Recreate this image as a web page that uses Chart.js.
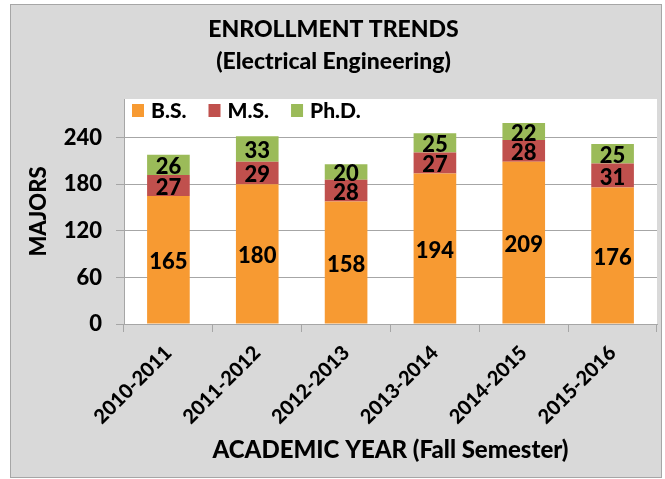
<!DOCTYPE html>
<html>
<head>
<meta charset="utf-8">
<script src="https://cdn.jsdelivr.net/npm/chart.js@4/dist/chart.umd.min.js"></script>
<style>
html,body{margin:0;padding:0;background:#fff;}
#wrap{width:665px;height:479px;position:relative;}
</style>
</head>
<body>
<div id="wrap"><canvas id="c" width="665" height="479"></canvas></div>
<script>
const categories = ['2010-2011','2011-2012','2012-2013','2013-2014','2014-2015','2015-2016'];
const bsValues  = [165, 180, 158, 194, 209, 176];
const msValues  = [27, 29, 28, 27, 28, 31];
const phdValues = [26, 33, 20, 25, 22, 25];
const seriesNames = ['B.S.', 'M.S.', 'Ph.D.'];
const yTickValues = [0, 60, 120, 180, 240];

const FONT = 'Lato, "Open Sans", sans-serif';
const W = 900;

const bgPlugin = {
  id: 'bg',
  beforeDraw(chart) {
    const ctx = chart.ctx, a = chart.chartArea;
    ctx.save();
    ctx.fillStyle = '#ffffff';
    ctx.fillRect(0, 0, chart.width, chart.height);
    ctx.fillStyle = '#d9d9d9';
    ctx.fillRect(10, 4, 651, 473);
    ctx.strokeStyle = '#a6a6a6';
    ctx.lineWidth = 1;
    ctx.strokeRect(10.5, 4.5, 651, 473);
    ctx.fillStyle = '#ffffff';
    ctx.fillRect(a.left, a.top, a.right - a.left, a.bottom - a.top);
    ctx.restore();
  }
};

const labelPlugin = {
  id: 'vals',
  afterDatasetsDraw(chart) {
    const ctx = chart.ctx;
    ctx.save();
    ctx.font = W + ' 22px ' + FONT;
    ctx.fillStyle = '#000';
    ctx.textAlign = 'center';
    ctx.textBaseline = 'middle';
    chart.data.datasets.forEach((ds, i) => {
      const meta = chart.getDatasetMeta(i);
      meta.data.forEach((el, j) => {
        const y = (el.y + el.base) / 2;
        ctx.fillText(String(ds.data[j]), el.x, y + 2);
      });
    });
    ctx.restore();
  }
};

const legendPlugin = {
  id: 'legendIn',
  afterDraw(chart) {
    const ctx = chart.ctx, a = chart.chartArea;
    ctx.save();
    ctx.font = W + ' 21px ' + FONT;
    ctx.textBaseline = 'middle';
    ctx.textAlign = 'left';
    let x = a.left + 8;
    const y = a.top + 5;
    chart.data.datasets.forEach((ds) => {
      ctx.fillStyle = ds.backgroundColor;
      ctx.fillRect(x, y, 12, 13);
      ctx.fillStyle = '#000';
      ctx.fillText(ds.label, x + 19, y + 7);
      x += 19 + ctx.measureText(ds.label).width + 22;
    });
    ctx.restore();
  }
};

new Chart(document.getElementById('c'), {
  type: 'bar',
  data: {
    labels: categories,
    datasets: [
      { label: seriesNames[0], data: bsValues,  backgroundColor: '#f79a32' },
      { label: seriesNames[1], data: msValues,  backgroundColor: '#c0504d' },
      { label: seriesNames[2], data: phdValues, backgroundColor: '#9bbb59' }
    ]
  },
  options: {
    responsive: false,
    animation: false,
    devicePixelRatio: 1,
    layout: { padding: { left: 10, right: 8, top: 4, bottom: 5 } },
    datasets: { bar: { categoryPercentage: 1, barPercentage: 0.48 } },
    plugins: {
      legend: { display: false },
      tooltip: { enabled: false },
      title: {
        display: true,
        text: ['ENROLLMENT TRENDS', '(Electrical Engineering)'],
        color: '#000',
        font: { family: FONT, size: 23, weight: W, lineHeight: 32/23 },
        padding: { top: 10, bottom: 21 }
      }
    },
    scales: {
      x: {
        stacked: true,
        offset: true,
        grid: { display: true, drawOnChartArea: false, drawTicks: true, tickLength: 8, color: '#a6a6a6', offset: true },
        border: { display: true, color: '#a6a6a6' },
        ticks: { color: '#000', font: { family: FONT, size: 20, weight: W }, minRotation: 45, maxRotation: 45, padding: 9 },
        title: { display: true, text: 'ACADEMIC YEAR (Fall Semester)', color: '#000', font: { family: FONT, size: 24, weight: W }, padding: { top: 0, bottom: 9 } },
        afterFit(s) { s.height = 150; }
      },
      y: {
        stacked: true,
        min: 0,
        max: 290,
        grid: { color: '#a6a6a6', drawTicks: true, tickLength: 8 },
        border: { display: true, color: '#a6a6a6' },
        ticks: { stepSize: 60, color: '#000', font: { family: FONT, size: 22, weight: W }, padding: 14 },
        afterBuildTicks(s) { s.ticks = yTickValues.map(v => ({ value: v })); },
        title: { display: true, text: 'MAJORS', color: '#000', font: { family: FONT, size: 22, weight: W }, padding: { top: 16, bottom: 0 } },
        afterFit(s) { s.width = 114; }
      }
    }
  },
  plugins: [bgPlugin, labelPlugin, legendPlugin]
});
</script>
</body>
</html>
